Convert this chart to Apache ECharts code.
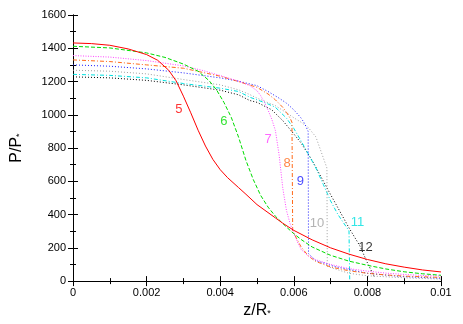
<!DOCTYPE html>
<html lang="en">
<head>
    <meta charset="UTF-8">
    <title>P/P* vs z/R*</title>
    <style>
        html, body { margin: 0; padding: 0; background: #fff; }
    </style>
</head>
<body>
<div id="main" style="width: 463px;height:324px;"></div>
<script src="https://cdn.jsdelivr.net/npm/echarts@6/dist/echarts.min.js"></script>
<script>
    // curves, [z/R*, P/P*]
    var curve5 = [[0,1432],[0.0005,1428],[0.001,1418],[0.0015,1396],[0.002,1362],[0.0023,1328],[0.0026,1268],[0.0028,1205],
        [0.003,1112],[0.0032,1012],[0.0034,907],[0.0036,812],[0.0038,732],[0.004,670],[0.0042,622],[0.0045,562],[0.0047,522],
        [0.005,460],[0.0055,380],[0.0057,348],[0.006,305],[0.0065,248],[0.007,200],[0.0075,162],[0.008,130],[0.0085,104],
        [0.009,84],[0.0095,67],[0.01,55]];
    var curve6 = [[0,1412],[0.001,1402],[0.002,1372],[0.0025,1345],[0.003,1305],[0.0034,1262],[0.0037,1205],[0.0039,1150],
        [0.0041,1075],[0.0043,985],[0.0045,865],[0.0047,725],[0.0049,610],[0.0051,515],[0.0053,445],[0.0055,390],[0.0058,325],
        [0.006,285],[0.0062,250],[0.0065,205],[0.007,155],[0.0075,120],[0.008,95],[0.0085,73],[0.009,56],[0.0095,44],[0.01,35]];
    var curve7 = [[0,1356],[0.001,1347],[0.002,1326],[0.003,1294],[0.0035,1268],[0.004,1236],[0.0045,1202],[0.0048,1176],
        [0.005,1145],[0.0051,1115],[0.0052,1075],[0.0053,1028],[0.0054,975],[0.0055,905],[0.0056,760],[0.0057,560],
        [0.0058,425],[0.0059,345],[0.006,290],[0.0061,235],[0.0062,190],[0.0064,150],[0.0066,128],[0.007,100],[0.0075,75],
        [0.008,60],[0.0085,48],[0.009,40],[0.0095,34],[0.01,30]];
    var curve8 = [[0,1330],[0.001,1320],[0.002,1300],[0.003,1280],[0.004,1232],[0.0045,1200],[0.005,1165],[0.0053,1125],
        [0.0055,1090],[0.0057,1045],[0.0058,1015],[0.0059,980],[0.00595,955],[0.00597,300],[0.0062,205],[0.0064,150],
        [0.0066,118],[0.007,85],[0.0075,62],[0.008,47],[0.0085,37],[0.009,30],[0.01,22]];
    var curve9 = [[0,1300],[0.001,1292],[0.002,1276],[0.003,1252],[0.004,1222],[0.0045,1202],[0.005,1175],[0.0053,1140],
        [0.0056,1100],[0.0058,1070],[0.006,1030],[0.0062,980],[0.0063,945],[0.00639,900],[0.0064,165],[0.0066,123],
        [0.0071,88],[0.008,47],[0.0089,28],[0.01,17]];
    var curve10 = [[0,1268],[0.001,1262],[0.002,1246],[0.003,1212],[0.004,1180],[0.0045,1150],[0.0048,1122],[0.005,1100],
        [0.0055,1055],[0.0058,1012],[0.006,982],[0.0062,955],[0.0064,922],[0.0066,867],[0.0069,680],[0.00691,88],
        [0.0075,47],[0.008,32],[0.009,20],[0.01,12]];
    var curve11 = [[0,1243],[0.001,1237],[0.002,1222],[0.003,1188],[0.004,1160],[0.0045,1140],[0.0048,1106],[0.005,1090],
        [0.0053,1065],[0.0055,1045],[0.0058,980],[0.006,918],[0.0062,842],[0.0064,762],[0.0066,680],[0.0068,582],
        [0.007,482],[0.0072,400],[0.0075,302],[0.00752,0]];
    var curve12 = [[0,1228],[0.001,1222],[0.002,1207],[0.003,1180],[0.004,1148],[0.0045,1120],[0.0048,1086],[0.005,1075],
        [0.0054,1030],[0.0057,965],[0.006,885],[0.0062,830],[0.0065,725],[0.007,520],[0.0075,320],[0.0078,210],
        [0.008,110],[0.0082,20]];

    var curveNames = ['5', '6', '7', '8', '9', '10', '11', '12'];
    var curveData = [curve5, curve6, curve7, curve8, curve9, curve10, curve11, curve12];
    var curveColors = ['#ff0000', '#00dd00', '#ff44ff', '#ff6a1a', '#1a1aff', '#a0a0a0', '#00e0e0', '#000000'];
    var curveDash = ['solid', [4, 2], [1, 1.5], [4, 2, 1, 2], [1, 2], [1, 2], [4, 2, 1, 2], [1, 2]];

    // curve labels placed in the plot
    var labelZ = [0.00288, 0.0041, 0.0053, 0.00582, 0.00618, 0.00663, 0.00773, 0.00795];
    var labelP = [1032, 961, 850, 710, 600, 345, 350, 205];

    var myChart = echarts.init(document.getElementById('main'));

    var font = 'Liberation Sans';
    var series = [];
    for (var i = 0; i < curveData.length; i++) {
        series.push({
            name: curveNames[i],
            type: 'line',
            data: curveData[i],
            showSymbol: false,
            symbol: 'none',
            lineStyle: { color: curveColors[i], width: 1, type: curveDash[i] },
            z: 10 - i
        });
    }

    var labelPoints = [];
    for (var j = 0; j < curveNames.length; j++) {
        labelPoints.push({
            value: [labelZ[j], labelP[j]],
            label: { show: true, formatter: curveNames[j], color: curveColors[j] }
        });
    }
    series.push({
        type: 'scatter',
        data: labelPoints,
        symbolSize: 0,
        silent: true,
        label: { show: true, position: 'inside', fontSize: 13, fontFamily: font },
        z: 20
    });

    var tickFmt = function (v) {
        return String(+v.toFixed(4));
    };

    option = {
        animation: false,
        backgroundColor: '#fff',
        grid: { left: 73, right: 22, top: 15, bottom: 36 },
        xAxis: [
            {
                type: 'value',
                min: 0, max: 0.01, interval: 0.002,
                name: '{a|z/R}{s|*}',
                nameLocation: 'middle',
                nameGap: 18,
                nameTextStyle: {
                    rich: {
                        a: { fontSize: 16, fontFamily: font, color: '#000' },
                        s: { fontSize: 9, fontFamily: font, color: '#000', padding: [6, 0, 0, 0] }
                    }
                },
                axisLine: { lineStyle: { color: '#000', width: 1 } },
                axisTick: { inside: true, length: 5, lineStyle: { color: '#000' } },
                minorTick: { show: true, splitNumber: 2, length: 3, lineStyle: { color: '#000' } },
                splitLine: { show: false },
                axisLabel: { formatter: tickFmt, fontSize: 11, fontFamily: font, color: '#000', margin: 6 }
            },
            {
                type: 'value', position: 'top',
                min: 0, max: 0.01, interval: 0.002,
                axisLine: { show: true, lineStyle: { color: '#000', width: 1 } },
                axisTick: { inside: true, length: 5, lineStyle: { color: '#000' } },
                minorTick: { show: true, splitNumber: 2, length: 3, lineStyle: { color: '#000' } },
                splitLine: { show: false },
                axisLabel: { show: false }
            }
        ],
        yAxis: [
            {
                type: 'value',
                min: 0, max: 1600, interval: 200,
                name: '{a|P/P}{s|*}',
                nameLocation: 'middle',
                nameRotate: 90,
                nameGap: 48,
                nameTextStyle: {
                    rich: {
                        a: { fontSize: 16, fontFamily: font, color: '#000' },
                        s: { fontSize: 9, fontFamily: font, color: '#000', padding: [6, 0, 0, 0] }
                    }
                },
                axisLine: { show: true, lineStyle: { color: '#000', width: 1 } },
                axisTick: { inside: true, length: 5, lineStyle: { color: '#000' } },
                minorTick: { show: true, splitNumber: 2, length: 3, lineStyle: { color: '#000' } },
                splitLine: { show: false },
                axisLabel: { formatter: tickFmt, fontSize: 11, fontFamily: font, color: '#000', margin: 7 }
            },
            {
                type: 'value', position: 'right',
                min: 0, max: 1600, interval: 200,
                axisLine: { show: true, lineStyle: { color: '#000', width: 1 } },
                axisTick: { inside: true, length: 5, lineStyle: { color: '#000' } },
                minorTick: { show: true, splitNumber: 2, length: 3, lineStyle: { color: '#000' } },
                splitLine: { show: false },
                axisLabel: { show: false }
            }
        ],
        series: series
    };

    myChart.setOption(option);
</script>
</body>
</html>
